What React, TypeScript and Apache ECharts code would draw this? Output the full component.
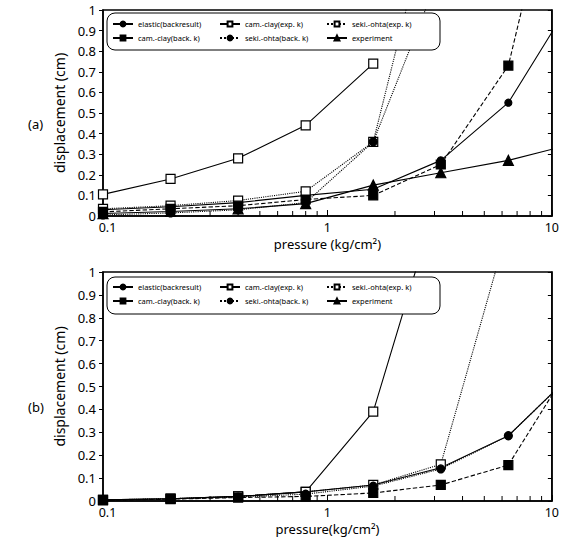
import React, { useEffect, useRef } from "react";
import * as echarts from "echarts";

// pressures (kg/cm^2)
const PRESSURES = [0.1, 0.2, 0.4, 0.8, 1.6, 3.2, 6.4, 12.8];
const MINOR_TICKS = [0.2, 0.3, 0.4, 0.5, 0.6, 0.7, 0.8, 0.9, 2, 3, 4, 5, 6, 7, 8, 9];
const SERIES_NAMES = [
  "elastic(backresult)",
  "cam.-clay(exp. k)",
  "seki.-ohta(exp. k)",
  "cam.-clay(back. k)",
  "seki.-ohta(back. k)",
  "experiment",
];

// (a) displacement (cm)
const A_ELASTIC = [0.03, 0.045, 0.065, 0.1, 0.13, 0.27, 0.55, 1.08];
const A_CAM_EXP = [0.105, 0.18, 0.28, 0.44, 0.74];
const A_SEKI_EXP = [0.035, 0.05, 0.075, 0.12, 0.36, 1.68];
const A_CAM_BACK = [0.02, 0.035, 0.05, 0.08, 0.1, 0.25, 0.73, 2.1];
const A_SEKI_BACK = [0.005, 0.015, 0.03, 0.065, 0.36, 1.19];
const A_EXPERIMENT = [0.012, 0.022, 0.035, 0.06, 0.15, 0.21, 0.27, 0.354];

// (b) displacement (cm)
const B_ELASTIC = [0.005, 0.01, 0.02, 0.04, 0.07, 0.145, 0.285, 0.57];
const B_CAM_EXP = [0.005, 0.01, 0.02, 0.04, 0.39, 1.37];
const B_SEKI_EXP = [0.005, 0.01, 0.02, 0.04, 0.07, 0.16, 1.2];
const B_CAM_BACK = [0.003, 0.008, 0.015, 0.02, 0.035, 0.07, 0.157, 0.63];
const B_SEKI_BACK = [0.004, 0.009, 0.017, 0.03, 0.065, 0.14, 0.285, 0.57];
const B_EXPERIMENT: number[] = [];

const PANELS = [
  { label: "(a)", xName: "pressure (kg/cm\u00b2)", values: [A_ELASTIC, A_CAM_EXP, A_SEKI_EXP, A_CAM_BACK, A_SEKI_BACK, A_EXPERIMENT] },
  { label: "(b)", xName: "pressure(kg/cm\u00b2)", values: [B_ELASTIC, B_CAM_EXP, B_SEKI_EXP, B_CAM_BACK, B_SEKI_BACK, B_EXPERIMENT] },
];

const STYLE: Record<string, any> = {
  "elastic(backresult)": { symbol: "circle", size: 7, fill: "#000", type: "solid" },
  "cam.-clay(exp. k)": { symbol: "rect", size: 9, fill: "#fff", type: "solid" },
  "seki.-ohta(exp. k)": { symbol: "rect", size: 9, fill: "#fff", type: "dotted" },
  "cam.-clay(back. k)": { symbol: "rect", size: 9, fill: "#000", type: "dashed" },
  "seki.-ohta(back. k)": { symbol: "circle", size: 8, fill: "#000", type: "dotted" },
  experiment: { symbol: "triangle", size: 10, fill: "#000", type: "solid" },
};

const FONT = "Noto Sans";

export default function App() {
  const ref = useRef<HTMLDivElement>(null);
  useEffect(() => {
    document.body.style.margin = "0";
    const chart = echarts.init(ref.current!, null, { renderer: "svg" });
    const grids = [
      { left: 103, right: 8, top: 10, height: 206 },
      { left: 103, right: 8, top: 272, height: 229 },
    ];
    const boxes = [
      { y: 13, rows: [25, 39] },
      { y: 277, rows: [288, 302] },
    ];
    const colX = [112, 219, 326];

    const xAxis: any[] = [];
    const yAxis: any[] = [];
    const series: any[] = [];
    const legend: any[] = [];
    const graphic: any[] = [];

    PANELS.forEach((panel, gi) => {
      xAxis.push({
        type: "log",
        logBase: 10,
        min: 0.1,
        max: 10,
        gridIndex: gi,
        axisLine: { lineStyle: { color: "#000", width: 1.5 } },
        axisTick: { inside: true, length: 6, lineStyle: { color: "#000" } },
        axisLabel: {
          color: "#000",
          fontSize: 12.5,
          fontFamily: FONT,
          margin: 5,
          formatter: (v: number) => (v === 0.1 ? `{s|${v}}` : `${v}`),
          rich: { s: { padding: [0, 0, 0, 9], fontSize: 12.5, fontFamily: FONT, color: "#000" } },
        },
        splitLine: { show: false },
        name: panel.xName,
        nameLocation: "middle",
        nameGap: 21,
        nameTextStyle: { color: "#000", fontSize: 13, fontFamily: FONT },
      });
      yAxis.push({
        type: "value",
        min: 0,
        max: 1,
        interval: 0.1,
        gridIndex: gi,
        axisLine: { show: true, lineStyle: { color: "#000", width: 1.5 } },
        axisTick: { show: true, length: 4, lineStyle: { color: "#000" } },
        axisLabel: { color: "#000", fontSize: 13, fontFamily: FONT, margin: 7 },
        splitLine: { show: false },
        name: "displacement (cm)",
        nameLocation: "middle",
        nameGap: 33,
        nameTextStyle: { color: "#000", fontSize: 14, fontFamily: FONT },
      });
      yAxis.push({
        type: "value",
        min: 0,
        max: 1,
        interval: 0.1,
        gridIndex: gi,
        position: "right",
        axisLine: { show: true, lineStyle: { color: "#000", width: 1.5 } },
        axisTick: { show: true, inside: true, length: 4, lineStyle: { color: "#000" } },
        axisLabel: { show: false },
        splitLine: { show: false },
      });

      SERIES_NAMES.forEach((name, si) => {
        const st = STYLE[name];
        const vals = panel.values[si];
        series.push({
          type: "line",
          name,
          xAxisIndex: gi,
          yAxisIndex: gi * 2,
          data: vals.map((v, i) => [PRESSURES[i], v]),
          symbol: st.symbol,
          symbolSize: st.size,
          showAllSymbol: true,
          clip: true,
          lineStyle: { color: "#000", width: 1.1, type: st.type },
          itemStyle: { color: st.fill, borderColor: "#000", borderWidth: 1.2 },
          z: 2 + si,
        });
      });

      series.push({
        type: "custom",
        xAxisIndex: gi,
        yAxisIndex: gi * 2,
        silent: true,
        clip: false,
        z: 10,
        data: MINOR_TICKS.map((v) => [v, 0]),
        renderItem: (params: any, api: any) => {
          const p = api.coord([api.value(0), 0]);
          return {
            type: "line",
            shape: { x1: p[0], y1: p[1], x2: p[0], y2: p[1] - 5 },
            style: { stroke: "#000", lineWidth: 1 },
          };
        },
      });

      const b = boxes[gi];
      graphic.push({
        type: "rect",
        z: 50,
        shape: { x: 107, y: b.y, width: 333, height: 37, r: 8 },
        style: { fill: "#fff", stroke: "#000", lineWidth: 1 },
      });
      graphic.push({
        type: "text",
        left: 28,
        top: gi === 0 ? 117 : 400,
        style: { text: panel.label, fill: "#000", font: `13px "${FONT}"` },
      });
      SERIES_NAMES.forEach((name, si) => {
        legend.push({
          data: [name],
          left: colX[si % 3],
          top: b.rows[Math.floor(si / 3)] - 5,
          padding: 0,
          itemWidth: 20,
          itemHeight: 6,
          itemGap: 4,
          z: 60,
          selectedMode: false,
          textStyle: { color: "#000", fontSize: 7.5, fontFamily: FONT },
        });
      });
    });

    chart.setOption({
      animation: false,
      backgroundColor: "#fff",
      grid: grids.map((g) => ({ ...g, show: true, borderColor: "#000", borderWidth: 1.5, backgroundColor: "transparent" })),
      xAxis,
      yAxis,
      series,
      legend,
      graphic,
    });
    return () => chart.dispose();
  }, []);
  return <div ref={ref} style={{ width: 562, height: 548, position: "absolute", left: 0, top: 0 }} />;
}
